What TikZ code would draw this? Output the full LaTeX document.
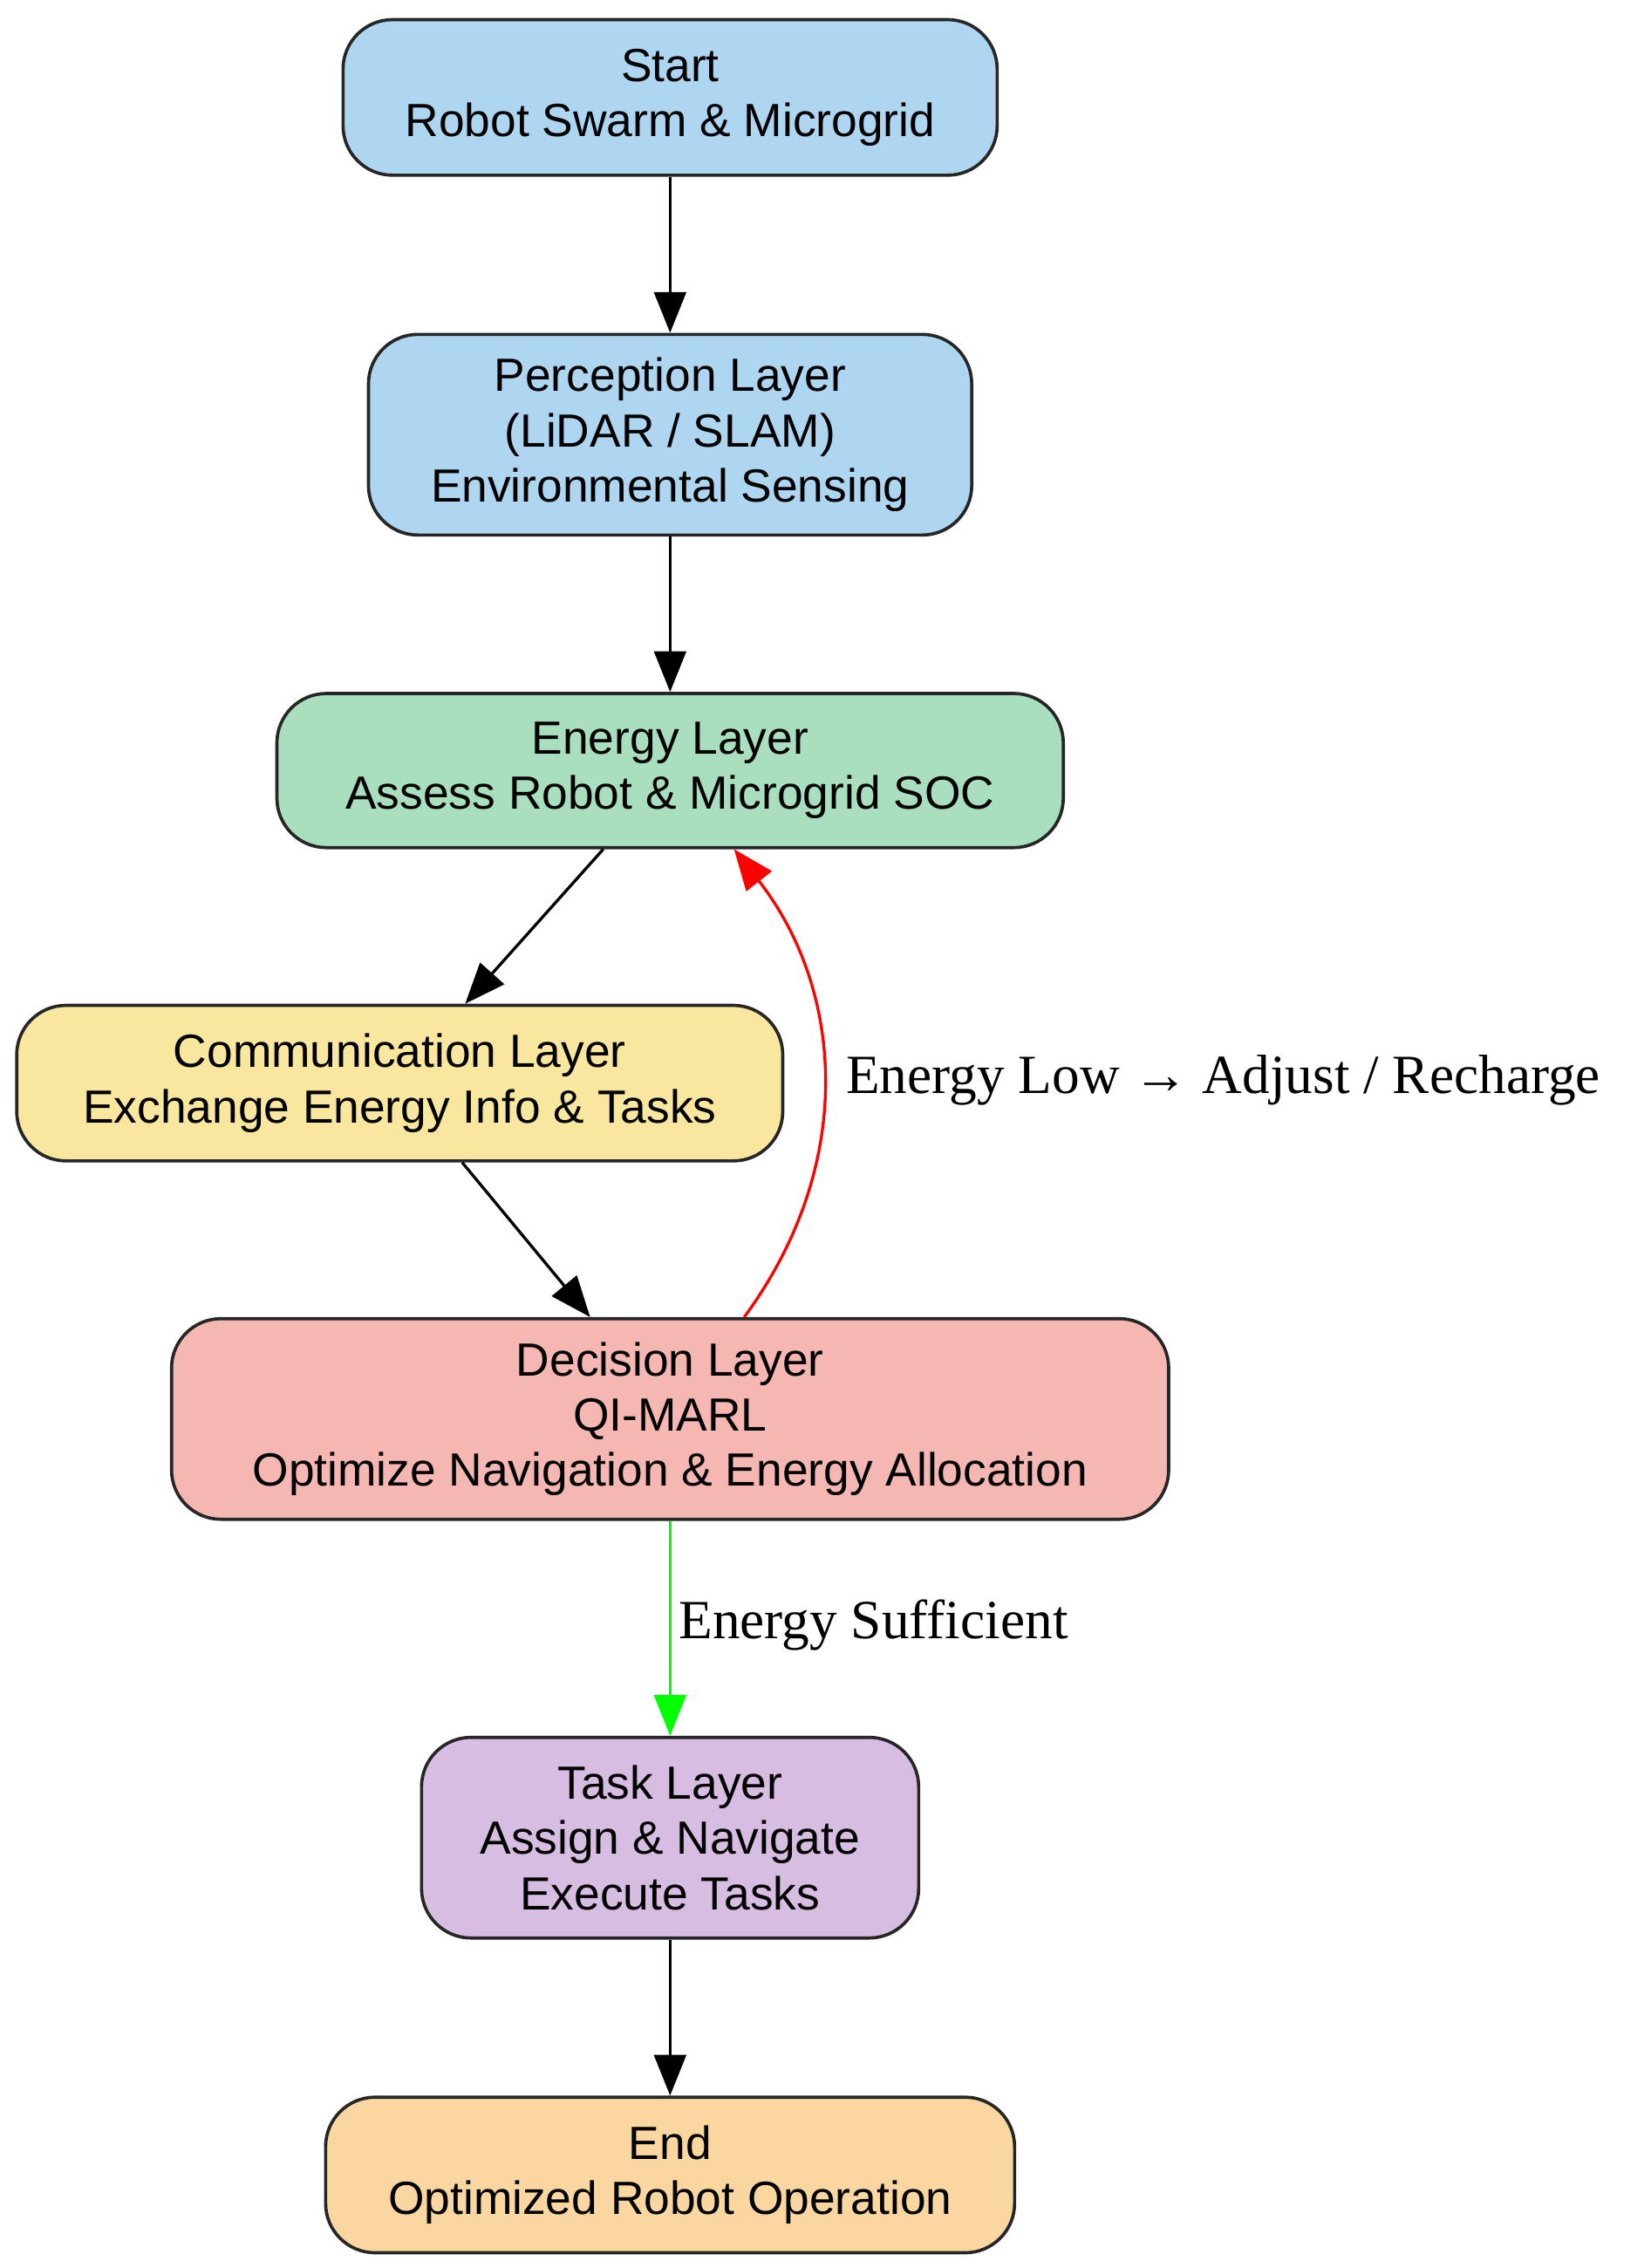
\documentclass[tikz,border=0pt]{standalone}
\usepackage{fontspec}
\setmainfont{Liberation Sans}
\newfontfamily\lblfont{Liberation Serif}
\usetikzlibrary{arrows.meta}
\definecolor{cblue}{HTML}{AED6F1}
\definecolor{cgreen}{HTML}{A9DFBF}
\definecolor{cyellow}{HTML}{F9E79F}
\definecolor{cred}{HTML}{F5B7B1}
\definecolor{cpurple}{HTML}{D7BDE2}
\definecolor{corange}{HTML}{FAD7A0}
\begin{document}
\begin{tikzpicture}[x=0.5pt,y=-0.5pt,
 box/.style={draw=black!85,line width=1.1pt,rounded corners=17pt,align=center,inner sep=0pt,
   font=\fontsize{16}{19}\selectfont},
 arr/.style={line width=1pt,-{Triangle[length=14pt,width=11pt]}},
 lbl/.style={font=\lblfont\fontsize{19}{22}\selectfont}]
\useasboundingbox (0,0) rectangle (1131,1560);
\node[box,fill=cblue,minimum width=225pt,minimum height=53.5pt] (start) at (461,67) {Start\\Robot Swarm \& Microgrid};
\node[box,fill=cblue,minimum width=207.5pt,minimum height=69pt] (perc) at (461,299) {Perception Layer\\(LiDAR / SLAM)\\Environmental Sensing};
\node[box,fill=cgreen,minimum width=270.5pt,minimum height=53pt] (energy) at (461,530) {Energy Layer\\Assess Robot \& Microgrid SOC};
\node[box,fill=cyellow,minimum width=263.5pt,minimum height=53.5pt] (comm) at (275,745) {Communication Layer\\Exchange Energy Info \& Tasks};
\node[box,fill=cred,minimum width=343pt,minimum height=69pt] (dec) at (461,976) {Decision Layer\\QI-MARL\\Optimize Navigation \& Energy Allocation};
\node[box,fill=cpurple,minimum width=171pt,minimum height=69pt] (task) at (461,1264) {Task Layer\\Assign \& Navigate\\Execute Tasks};
\node[box,fill=corange,minimum width=237pt,minimum height=53.5pt] (end) at (461,1496) {End\\Optimized Robot Operation};
\draw[arr] (start) -- (perc);
\draw[arr] (perc) -- (energy);
\draw[arr] (energy.south -| 415,0) -- (comm.north -| 320,0);
\draw[arr] (comm.south -| 318,0) -- (dec.north -| 406,0);
\draw[arr,red] (dec.north -| 512,0) .. controls (590,800) and (580,680) .. (energy.south -| 505,0);
\node[lbl,anchor=west] (lowlbl) at (575,743) {Energy Low \textrightarrow{} Adjust / Recharge};
\draw[arr,green] (dec) -- (task);
\node[lbl,anchor=west] (suflbl) at (460,1118) {Energy Sufficient};
\draw[arr] (task) -- (end);
\end{tikzpicture}
\end{document}
